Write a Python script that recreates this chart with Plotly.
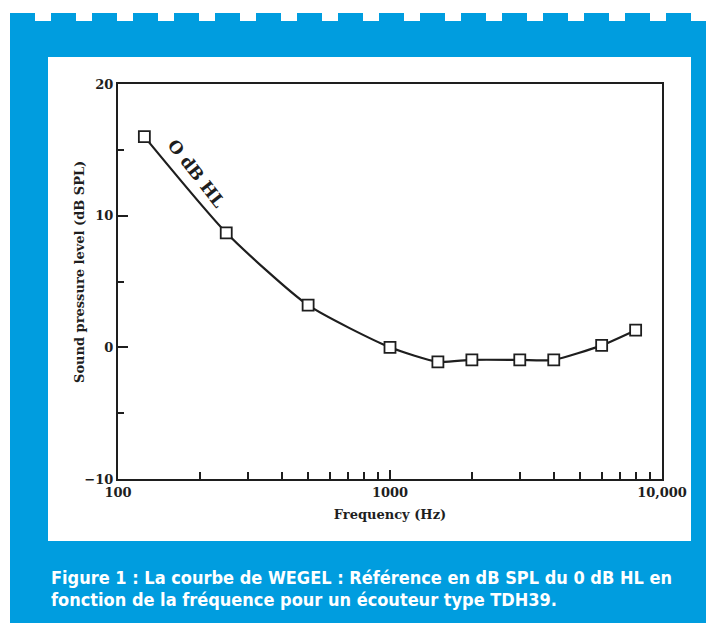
import plotly.graph_objects as go

# ---- data ----
freq_hz = [125, 250, 500, 1000, 1500, 2000, 3000, 4000, 6000, 8000]
spl_db = [16.0, 8.7, 3.2, 0.0, -1.1, -0.95, -0.95, -0.95, 0.15, 1.3]

x_tick_vals = [100, 1000, 10000]
x_tick_text = ["100", "1000", "10,000"]
x_minor_vals = [200, 300, 400, 500, 600, 700, 800, 900,
                2000, 3000, 4000, 5000, 6000, 7000, 8000, 9000]
y_tick_vals = [-10, 0, 10, 20]
y_tick_text = ["\u221210", "0", "10", "20"]
y_minor_vals = [-5, 5, 15]

curve_label = "O dB HL"
x_title = "Frequency (Hz)"
y_title = "Sound pressure level (dB SPL)"
caption_lines = [
    "Figure 1 : La courbe de WEGEL : Référence en dB SPL du 0 dB HL en",
    "fonction de la fréquence pour un écouteur type TDH39.",
]

# ---- geometry (page pixels; the page body adds an 8px offset) ----
OFF = 8
PAGE_W, PAGE_H = 714, 623
W, H = PAGE_W - OFF, PAGE_H - OFF
L, R, T, B = 118, 662, 84, 479          # plot area in page pixels
BLUE = "#009DDF"
INK = "#1e1e1e"
SERIF = "DejaVu Serif, Liberation Serif, serif"
COND = "Liberation Sans Narrow, DejaVu Sans Condensed, Arial Narrow, sans-serif"


def px(x):
    return (x - L) / (R - L)


def py(y):
    return (B - y) / (B - T)


fig = go.Figure()
fig.add_trace(go.Scatter(
    x=freq_hz, y=spl_db, mode="lines+markers",
    line=dict(color=INK, width=2.2, shape="spline", smoothing=0.6),
    marker=dict(symbol="square", size=11, color="white",
                line=dict(color=INK, width=1.8)),
    showlegend=False, hoverinfo="x+y",
))

shapes = []
# white top strip (page y 8..13)
shapes.append(dict(type="rect", xref="paper", yref="paper",
                   x0=px(0), x1=px(PAGE_W + 5), y0=py(0), y1=py(21),
                   fillcolor="white", line_width=0, layer="below"))
# white left strip (page x 8..10)
shapes.append(dict(type="rect", xref="paper", yref="paper",
                   x0=px(0), x1=px(10), y0=py(0), y1=py(PAGE_H + 5),
                   fillcolor="white", line_width=0, layer="below"))
# blue tabs of the dashed top border
xs = 10
while xs < PAGE_W:
    shapes.append(dict(type="rect", xref="paper", yref="paper",
                       x0=px(xs), x1=px(min(xs + 25, PAGE_W + 5)), y0=py(13), y1=py(21.5),
                       fillcolor=BLUE, line_width=0, layer="below"))
    xs += 41
# white panel
shapes.append(dict(type="rect", xref="paper", yref="paper",
                   x0=px(48), x1=px(691), y0=py(541), y1=py(57),
                   fillcolor="white", line_width=0, layer="below"))

annotations = [
    dict(text=curve_label, xref="paper", yref="paper",
         x=px(196), y=py(173), showarrow=False, textangle=52,
         font=dict(family=SERIF, size=17, color=INK, weight="bold"),
         xanchor="center", yanchor="middle"),
    dict(text=y_title, xref="paper", yref="paper",
         x=px(79), y=py(272), showarrow=False, textangle=-90,
         font=dict(family=SERIF, size=13, color=INK, weight="bold"),
         xanchor="center", yanchor="middle"),
    dict(text="<b>" + caption_lines[0] + "</b>", xref="paper", yref="paper",
         x=px(49), y=py(577), xanchor="left", yanchor="middle", showarrow=False,
         font=dict(family=COND, size=18, color="white")),
    dict(text="<b>" + caption_lines[1] + "</b>", xref="paper", yref="paper",
         x=px(49), y=py(599), xanchor="left", yanchor="middle", showarrow=False,
         font=dict(family=COND, size=18, color="white")),
]

axis_common = dict(
    showline=True, linecolor=INK, linewidth=2, mirror=True,
    ticks="inside", tickcolor=INK, tickwidth=2,
    showgrid=False, zeroline=False,
    tickfont=dict(family=SERIF, size=13, color=INK, weight="bold"),
)

fig.update_xaxes(
    type="log", range=[2, 4], tickmode="array",
    tickvals=x_tick_vals, ticktext=x_tick_text, ticklen=9,
    minor=dict(tickmode="array", tickvals=x_minor_vals, ticks="inside",
               ticklen=7, tickcolor=INK, tickwidth=2, showgrid=False),
    title=dict(text=x_title, font=dict(family=SERIF, size=13, color=INK, weight="bold"),
               standoff=11),
    **axis_common,
)
fig.update_yaxes(
    range=[-10, 20], tickmode="array",
    tickvals=y_tick_vals, ticktext=y_tick_text, ticklen=10,
    minor=dict(tickmode="array", tickvals=y_minor_vals, ticks="inside",
               ticklen=6, tickcolor=INK, tickwidth=2, showgrid=False),
    **axis_common,
)

fig.update_layout(
    width=W, height=H,
    margin=dict(l=L - OFF, r=PAGE_W - R, t=T - OFF, b=PAGE_H - B, pad=0),
    paper_bgcolor=BLUE, plot_bgcolor="white",
    shapes=shapes, annotations=annotations,
    showlegend=False,
)

fig.write_html("out.html")
